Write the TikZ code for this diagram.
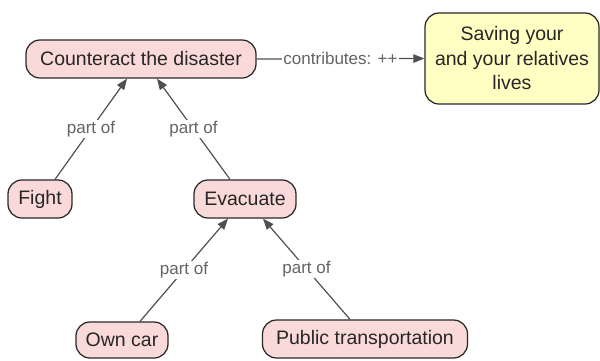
\documentclass[tikz,border=0pt]{standalone}
\usepackage{fontspec}
\setmainfont{Liberation Sans}
\usetikzlibrary{arrows.meta}
\definecolor{nodepink}{RGB}{250,218,216}
\definecolor{nodeyellow}{RGB}{255,255,196}
\definecolor{edgegray}{RGB}{80,80,80}
\definecolor{labelgray}{RGB}{100,100,100}
\definecolor{bordergray}{RGB}{40,40,40}
\tikzset{
  concept/.style={draw=bordergray, line width=1.25pt, fill=nodepink, rounded corners=14pt,
    minimum height=38pt, inner sep=0pt, text=black!85,
    font=\fontsize{19.5}{23}\selectfont},
  goal/.style={concept, fill=nodeyellow, rounded corners=14pt, align=center,
    font=\fontsize{19.5}{24.5}\selectfont},
  link/.style={draw=edgegray, line width=1.2pt, -{Triangle[length=11pt,width=8.5pt]}},
  linklabel/.style={fill=white, inner sep=1.5pt, text=labelgray,
    font=\fontsize{17}{20}\selectfont}
}
\begin{document}
\begin{tikzpicture}[x=1pt,y=-1pt]
\useasboundingbox (0,0) rectangle (600,360);
\node[concept, minimum width=230pt] (counteract) at (141,59) {Counteract the disaster};
\node[goal, minimum width=174pt, minimum height=91pt] (saving) at (512,58.5) {Saving your\\and your relatives\\lives};
\node[concept, minimum width=64pt] (fight) at (40,199) {Fight};
\node[concept, minimum width=102pt] (evacuate) at (245,199) {Evacuate};
\node[concept, minimum width=92pt, minimum height=36pt] (owncar) at (122,340) {Own car};
\node[concept, minimum width=205pt] (public) at (365,339) {Public transportation};

\draw[link] (counteract.east) -- node[linklabel, midway] {contributes: ++} (saving.west);
\draw[link] ([xshift=15]fight.north) -- node[linklabel, midway] {part of} ([xshift=-14]counteract.south);
\draw[link] ([xshift=-15]evacuate.north) -- node[linklabel, midway] {part of} ([xshift=16]counteract.south);
\draw[link] ([xshift=18]owncar.north) -- node[linklabel, midway] {part of} ([xshift=-17]evacuate.south);
\draw[link] ([xshift=-15]public.north) -- node[linklabel, midway] {part of} ([xshift=18]evacuate.south);
\end{tikzpicture}
\end{document}
